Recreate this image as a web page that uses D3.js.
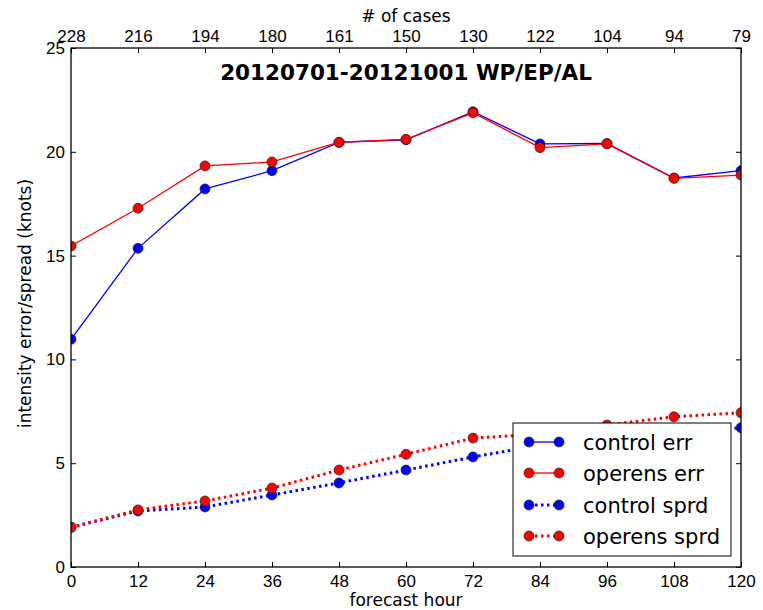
<!DOCTYPE html>
<html>
<head>
<meta charset="utf-8">
<script src="https://cdn.jsdelivr.net/npm/d3@7"></script>
<style>
  body { margin: 0; background: #fff; }
  svg { font-family: "DejaVu Sans", sans-serif; display: block; }
</style>
</head>
<body>
<div id="grafico"></div>
<script>
// datos
const hours = [0, 12, 24, 36, 48, 60, 72, 84, 96, 108, 120];
const cases = [228, 216, 194, 180, 161, 150, 130, 122, 104, 94, 79];
const controlErr = [10.97, 15.35, 18.21, 19.09, 20.45, 20.58, 21.93, 20.38, 20.4, 18.74, 19.09];
const operensErr = [15.46, 17.28, 19.32, 19.51, 20.46, 20.6, 21.88, 20.2, 20.38, 18.72, 18.88];
const controlSprd = [1.91, 2.7, 2.89, 3.47, 4.05, 4.67, 5.3, 5.87, 6.2, 6.45, 6.71];
const operensSprd = [1.91, 2.75, 3.18, 3.8, 4.67, 5.43, 6.21, 6.4, 6.84, 7.24, 7.43];
const yTicks = [0, 5, 10, 15, 20, 25];

const seriesNames = ['control err', 'operens err', 'control sprd', 'operens sprd'];

const width = 763;
const height = 610;
const margin = { top: 48, right: 22, bottom: 43, left: 71 };
const w = width - margin.left - margin.right;
const h = height - margin.top - margin.bottom;

const series = [
    { name: seriesNames[0], values: controlErr, color: '#0000ff', dotted: false },
    { name: seriesNames[1], values: operensErr, color: '#ff0000', dotted: false },
    { name: seriesNames[2], values: controlSprd, color: '#0000ff', dotted: true },
    { name: seriesNames[3], values: operensSprd, color: '#ff0000', dotted: true }
];

const svg = d3.select('#grafico')
    .append('svg')
    .attr('width', width)
    .attr('height', height);

const x = d3.scaleLinear().domain([0, 120]).range([0, w]);
const y = d3.scaleLinear().domain([0, 25]).range([h, 0]);

const g = svg.append('g')
    .attr('transform', `translate(${margin.left},${margin.top})`);

g.append('clipPath')
    .attr('id', 'clip')
    .append('rect')
    .attr('width', w)
    .attr('height', h);

// ejes con ticks hacia adentro
const styleAxis = sel => {
    sel.select('.domain').remove();
    sel.selectAll('line').attr('stroke', '#000').attr('stroke-width', 1);
    sel.selectAll('text').attr('fill', '#000').style('font-size', '17px');
};

g.append('g')
    .attr('transform', `translate(0,${h})`)
    .call(d3.axisBottom(x).tickValues(hours).tickSize(-5).tickSizeOuter(0).tickPadding(8))
    .call(styleAxis);

g.append('g')
    .call(d3.axisTop(x).tickValues(hours).tickFormat((d, i) => cases[i]).tickSize(-5).tickSizeOuter(0).tickPadding(6))
    .call(styleAxis);

g.append('g')
    .call(d3.axisLeft(y).tickValues(yTicks).tickSize(-5).tickSizeOuter(0).tickPadding(6))
    .call(styleAxis);

g.append('g')
    .attr('transform', `translate(${w},0)`)
    .call(d3.axisRight(y).tickValues(yTicks).tickFormat('').tickSize(-5).tickSizeOuter(0))
    .call(styleAxis);

// lineas y marcadores
const line = d3.line()
    .x((d, i) => x(hours[i]))
    .y(d => y(d));

const plot = g.append('g').attr('clip-path', 'url(#clip)');

series.forEach(s => {
    const sg = plot.append('g');
    sg.append('path')
        .datum(s.values)
        .attr('d', line)
        .attr('fill', 'none')
        .attr('stroke', s.color)
        .attr('stroke-width', s.dotted ? 3 : 1.3)
        .attr('stroke-dasharray', s.dotted ? '2.5,3.5' : null);
    sg.selectAll('circle')
        .data(s.values)
        .enter()
        .append('circle')
        .attr('cx', (d, i) => x(hours[i]))
        .attr('cy', d => y(d))
        .attr('r', 5)
        .attr('fill', s.color)
        .attr('stroke', '#222')
        .attr('stroke-width', 0.7);
});

// marco
g.append('rect')
    .attr('width', w)
    .attr('height', h)
    .attr('fill', 'none')
    .attr('stroke', '#000')
    .attr('stroke-width', 1.3);

// titulos
svg.append('text')
    .attr('x', margin.left + w / 2)
    .attr('y', 80)
    .attr('text-anchor', 'middle')
    .style('font-size', '21.5px')
    .style('font-weight', 'bold')
    .text('20120701-20121001 WP/EP/AL');

svg.append('text')
    .attr('x', margin.left + w / 2)
    .attr('y', 22)
    .attr('text-anchor', 'middle')
    .style('font-size', '17px')
    .text('# of cases');

svg.append('text')
    .attr('x', margin.left + w / 2)
    .attr('y', 606)
    .attr('text-anchor', 'middle')
    .style('font-size', '17px')
    .text('forecast hour');

svg.append('text')
    .attr('transform', `translate(31,${margin.top + h / 2 - 4}) rotate(-90)`)
    .attr('text-anchor', 'middle')
    .style('font-size', '17px')
    .text('intensity error/spread (knots)');

// leyenda
const legend = svg.append('g').attr('transform', 'translate(513,423)');
legend.append('rect')
    .attr('width', 218)
    .attr('height', 133)
    .attr('fill', '#fff')
    .attr('stroke', '#000')
    .attr('stroke-width', 1);

const rowY = [19, 50, 82, 113];
series.forEach((s, i) => {
    const row = legend.append('g').attr('transform', `translate(0,${rowY[i]})`);
    row.append('line')
        .attr('x1', 16).attr('x2', 46)
        .attr('stroke', s.color)
        .attr('stroke-width', s.dotted ? 3 : 1.3)
        .attr('stroke-dasharray', s.dotted ? '2.5,3.5' : null);
    row.selectAll('circle')
        .data([16, 46])
        .enter()
        .append('circle')
        .attr('cx', d => d)
        .attr('r', 5)
        .attr('fill', s.color)
        .attr('stroke', '#222')
        .attr('stroke-width', 0.7);
    row.append('text')
        .attr('x', 70)
        .attr('dy', '0.36em')
        .style('font-size', '21px')
        .text(s.name);
});
</script>
</body>
</html>
